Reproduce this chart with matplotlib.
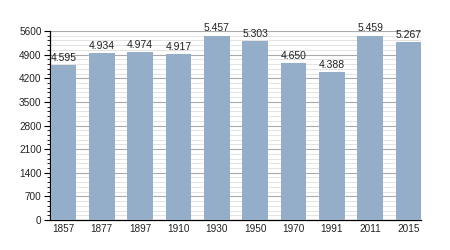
import matplotlib
matplotlib.use("Agg")
import matplotlib.pyplot as plt
from matplotlib.ticker import MultipleLocator

plt.rcParams['font.family'] = ['Liberation Sans', 'DejaVu Sans']

years = ["1857", "1877", "1897", "1910", "1930", "1950", "1970", "1991", "2011", "2015"]
population = [4595, 4934, 4974, 4917, 5457, 5303, 4650, 4388, 5459, 5267]
value_labels = ["4.595", "4.934", "4.974", "4.917", "5.457", "5.303", "4.650", "4.388", "5.459", "5.267"]

fig = plt.figure(figsize=(4.5, 2.5), dpi=100)
ax = fig.add_axes([0.111, 0.12, 0.825, 0.756])

x = list(range(len(years)))
ax.bar(x, population, width=0.67, color="#94aeca", zorder=3)
for xi, v, lab in zip(x, population, value_labels):
    ax.text(xi, v + 70, lab, ha="center", va="bottom", fontsize=7.5, color="#222222", zorder=4)

ax.set_xlim(-0.35, len(years) - 1 + 0.33)
ax.set_ylim(0, 5600)
ax.yaxis.set_major_locator(MultipleLocator(700))
ax.yaxis.set_minor_locator(MultipleLocator(140))
ax.grid(axis="y", which="major", color="#aaaaaa", linewidth=0.8, zorder=1)
ax.grid(axis="y", which="minor", color="#dedede", linewidth=0.6, zorder=1)
ax.set_xticks(x)
ax.set_xticklabels(years)
ax.tick_params(axis="x", length=0, labelsize=7.2, pad=3, colors="#222222")
ax.tick_params(axis="y", which="major", length=4, width=0.8, labelsize=7.2, pad=2, labelcolor="#222222")
ax.tick_params(axis="y", which="minor", length=2, width=0.6)
for s in ["top", "right"]:
    ax.spines[s].set_visible(False)
ax.spines["left"].set_linewidth(0.9)
ax.spines["bottom"].set_linewidth(0.9)

fig.savefig("out.png", dpi=100)
